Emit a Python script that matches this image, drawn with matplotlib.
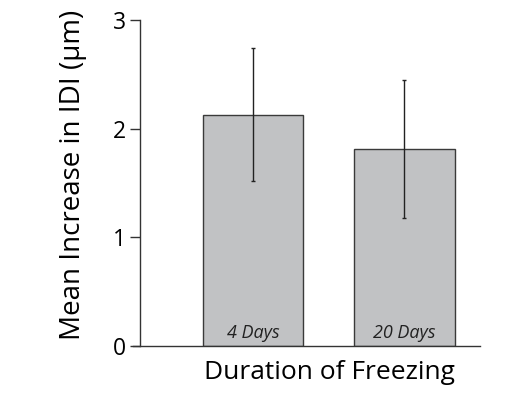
import matplotlib
matplotlib.use("Agg")
import matplotlib.pyplot as plt

groups = ["4 Days", "20 Days"]
means = [2.13, 1.81]
err_hi = [2.74, 2.45]
err_lo = [1.52, 1.18]
yticks = [0, 1, 2, 3]

plt.rcParams['font.family'] = ['Open Sans', 'DejaVu Sans']

fig = plt.figure(figsize=(5.3, 3.95), dpi=100)
ax = fig.add_axes([0.251, 0.125, 0.655, 0.824])

x = list(range(len(groups)))
yerr = [[m - lo for m, lo in zip(means, err_lo)],
        [hi - m for m, hi in zip(means, err_hi)]]
ax.bar(x, means, width=0.663, color="#c1c2c4", edgecolor="#3a3a3a", linewidth=1.0, zorder=2)
ax.errorbar(x, means, yerr=yerr, fmt="none", ecolor="#222222", elinewidth=1.0,
            capsize=1.5, capthick=1.0, zorder=3)

for xi, g in zip(x, groups):
    ax.text(xi, 0.07, g, ha="center", va="baseline", style="italic", fontsize=13, color="#222222")

ax.set_xlim(-0.793, 1.5)
ax.set_ylim(0, 3)
ax.set_yticks(yticks)
ax.set_xticks([])
ax.spines['top'].set_visible(False)
ax.spines['right'].set_visible(False)
ax.spines['left'].set_position(('data', -0.747))
for s in ('left', 'bottom'):
    ax.spines[s].set_color("#333333")
    ax.spines[s].set_linewidth(1.0)
ax.tick_params(axis='y', length=7, width=1.0, color="#333333", labelsize=16.5, pad=3)
ax.set_ylabel("Mean Increase in IDI (μm)", fontsize=20)
ax.yaxis.set_label_coords((87 / 530 - 0.251) / 0.655, 0.524)
ax.set_xlabel("Duration of Freezing", fontsize=19)
ax.xaxis.set_label_coords(0.565, -0.045)
ax.xaxis.label.set_va("top")

fig.savefig("out.png", dpi=100)
